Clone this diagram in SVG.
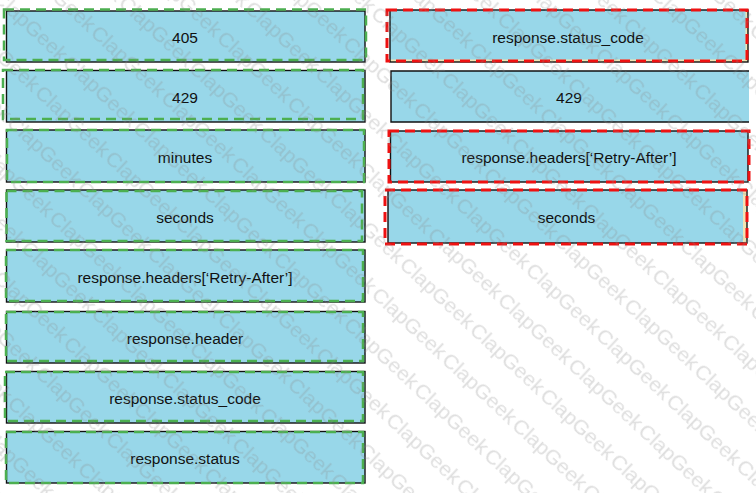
<svg xmlns="http://www.w3.org/2000/svg" width="756" height="493" viewBox="0 0 756 493">
  <style>
    .box { fill: #98d7e9; stroke: #111; stroke-width: 1.4; }
    .fill { fill: #98d7e9; }
    .edge { fill: none; stroke: #111; stroke-width: 1.4; }
    .beige { fill: #f1e3b3; }
    .green { fill: none; stroke: #4caf50; stroke-width: 2.5; stroke-dasharray: 10 6; }
    .red { fill: none; stroke: #ee1111; stroke-width: 3; stroke-dasharray: 10 6; }
    .lbl { font-family: "Liberation Sans", Arial, sans-serif; font-size: 15.5px; fill: #111; text-anchor: middle; }
    .wm { font-family: "Liberation Sans", Arial, sans-serif; font-size: 21px; fill: #8a8a8a; }
  </style>
  <defs>
    <pattern id="wmPat" patternUnits="userSpaceOnUse" x="664" y="-190" width="96" height="41" patternTransform="rotate(43)">
      <text class="wm" x="1" y="31">ClapGeek</text>
    </pattern>
  </defs>
  <rect width="756" height="493" fill="#ffffff"/>

  <!-- Left column -->
  <g id="left-405">
    <rect class="box" x="6.5" y="11" width="358.5" height="51"/>
    <rect class="green" x="4" y="9.5" width="362" height="50.5"/>
    <text class="lbl" x="185" y="43">405</text>
  </g>
  <g id="left-429">
    <rect class="box" x="6.5" y="70.5" width="358.5" height="51.5"/>
    <rect class="green" x="3" y="70" width="360" height="49"/>
    <text class="lbl" x="185" y="102.5">429</text>
  </g>
  <g id="left-minutes">
    <rect class="box" x="6.5" y="130" width="358.5" height="52"/>
    <rect class="green" x="7" y="130" width="357" height="52"/>
    <text class="lbl" x="185" y="162.5">minutes</text>
  </g>
  <g id="left-seconds">
    <rect class="box" x="6.5" y="190" width="358.5" height="52"/>
    <rect class="green" x="6.5" y="191" width="355.5" height="50"/>
    <text class="lbl" x="185" y="222.5">seconds</text>
  </g>
  <g id="left-headers">
    <rect class="box" x="6.5" y="250" width="358.5" height="52"/>
    <rect class="green" x="6" y="250" width="357" height="51"/>
    <text class="lbl" x="185" y="282.5">response.headers[‘Retry-After’]</text>
  </g>
  <g id="left-header">
    <rect class="box" x="6.5" y="311.5" width="358.5" height="51.5"/>
    <rect class="green" x="6" y="312" width="357" height="49"/>
    <text class="lbl" x="185" y="344">response.header</text>
  </g>
  <g id="left-status-code">
    <rect class="box" x="6.5" y="371.5" width="358.5" height="51.5"/>
    <rect class="green" x="5" y="372" width="358" height="49"/>
    <text class="lbl" x="185" y="404">response.status_code</text>
  </g>
  <g id="left-status">
    <rect class="box" x="6.5" y="431.5" width="358.5" height="51.5"/>
    <rect class="green" x="6" y="432" width="357" height="51"/>
    <text class="lbl" x="185" y="464">response.status</text>
  </g>

  <!-- Right column -->
  <g id="right-status-code">
    <rect class="beige" x="390" y="10" width="358" height="52"/>
    <rect class="fill" x="390" y="10" width="355.5" height="49.5"/>
    <rect class="edge" x="390" y="10" width="358" height="52"/>
    <rect class="red" x="387" y="10" width="360" height="51"/>
    <text class="lbl" x="568" y="42.5">response.status_code</text>
  </g>
  <g id="right-429">
    <rect class="fill" x="391" y="71" width="358" height="51"/>
    <path class="edge" d="M749,71 H391 V122 H749"/>
    <text class="lbl" x="569" y="103">429</text>
  </g>
  <g id="right-headers">
    <rect class="box" x="390.5" y="131" width="357.5" height="51"/>
    <rect class="red" x="389" y="131" width="360" height="51"/>
    <text class="lbl" x="569" y="163">response.headers[‘Retry-After’]</text>
  </g>
  <g id="right-seconds">
    <rect class="beige" x="388" y="190" width="359" height="53"/>
    <rect class="fill" x="388" y="190" width="355" height="53"/>
    <rect class="edge" x="388" y="190" width="359" height="53"/>
    <rect class="red" x="385" y="190" width="362" height="54"/>
    <text class="lbl" x="566.5" y="223">seconds</text>
  </g>

  <g id="connectors"></g>

  <!-- Watermark -->
  <rect width="756" height="493" fill="url(#wmPat)" opacity="0.28"/>
</svg>
